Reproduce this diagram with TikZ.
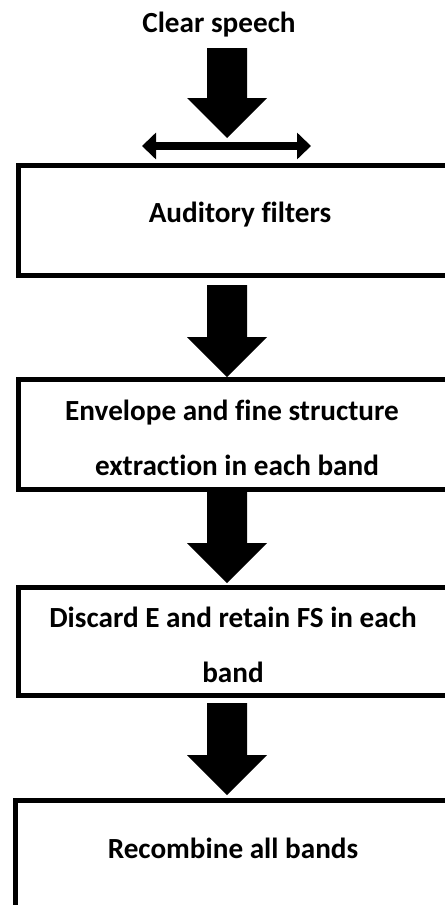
\documentclass[tikz,border=0pt]{standalone}
\usepackage{fontspec}
\setmainfont{Carlito}[Ligatures={NoCommon}]
\usetikzlibrary{arrows.meta,calc}
\begin{document}
\begin{tikzpicture}[x=1bp,y=-1bp,
  boxstyle/.style={draw=black,line width=5bp,rectangle,inner sep=0pt,outer sep=0pt,anchor=north west,minimum width=433.5bp},
  lbl/.style={anchor=base,inner sep=0pt,font=\bfseries\fontsize{29.2bp}{34bp}\selectfont},
  pics/blockarrow/.style={code={\fill[black] (-20,0) -- (20,0) -- (20,#1) -- (40,#1) -- (0,{#1+40}) -- (-40,#1) -- (-20,#1) -- cycle;}},
  dbl/.style={line width=8bp,{Triangle[length=14bp,width=26bp]}-{Triangle[length=14bp,width=26bp]}}
]
\useasboundingbox (0,0) rectangle (445,905);
\clip (0,0) rectangle (445,905);
\fill[white] (0,0) rectangle (445,905);
% boxes
\node[boxstyle,minimum height=110bp] (box1) at (18.5,165.5) {};
\node[boxstyle,minimum height=110bp] (box2) at (18.5,379.5) {};
\node[boxstyle,minimum height=108bp] (box3) at (18.5,587.5) {};
\node[boxstyle,minimum height=120bp] (box4) at (15.5,800.5) {};
% labels
\node[lbl] (speech) at (219,32) {Clear speech};
\node[lbl] (t1) at (240,222) {Auditory filters};
\node[lbl] (t2a) at (232,420) {Envelope and fine structure};
\node[lbl] (t2b) at (237,475) {extraction in each band};
\node[lbl] (t3a) at (233,627) {Discard E and retain FS in each};
\node[lbl] (t3b) at (233,682) {band};
\node[lbl] (t4) at (233,858) {Recombine all bands};
% arrow column
\coordinate (ax) at (227,0);
\coordinate (a1) at (227,48);
\pic at (a1) {blockarrow=50};
\pic at ($(box1.south -| ax)+(0,9.5)$) {blockarrow=52};
\pic at ($(box2.south -| ax)+(0,2.5)$) {blockarrow=51};
\pic at ($(box3.south -| ax)+(0,7.5)$) {blockarrow=52};
% double arrow
\coordinate (dl) at (142,146);
\coordinate (dr) at (311,146);
\draw[dbl] (dl) -- (dr);
\end{tikzpicture}
\end{document}
